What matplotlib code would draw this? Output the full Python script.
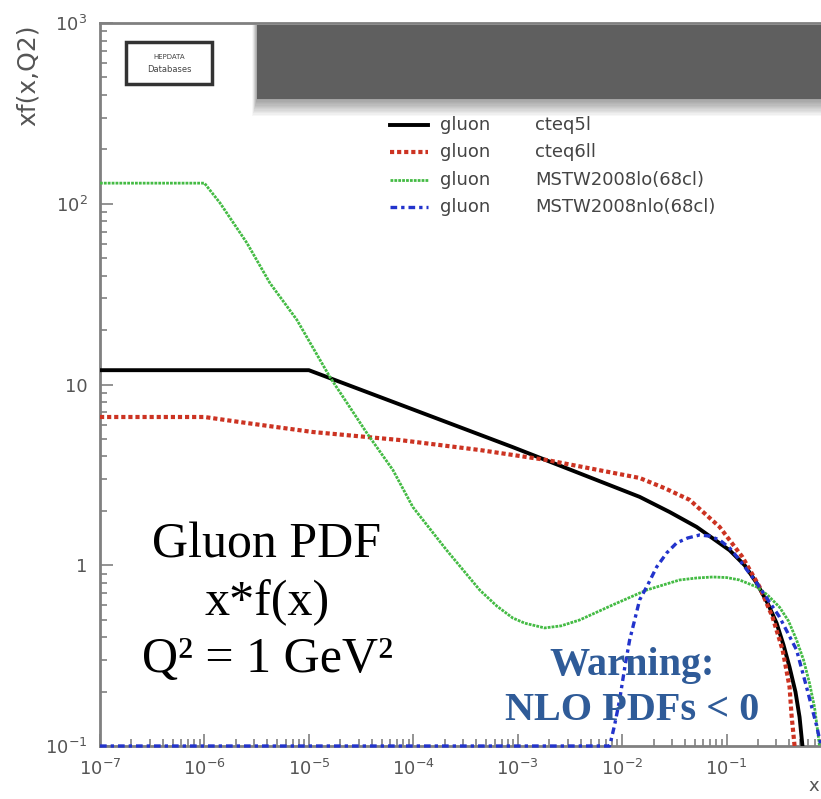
import math
import matplotlib
matplotlib.use('Agg')
import matplotlib.pyplot as plt
from matplotlib.lines import Line2D
from matplotlib.patches import Rectangle
from matplotlib.ticker import LogLocator, FuncFormatter

# ── data ─────────────────────────────────────────────────────────────────
x_cteq5l = [1e-7, 1.0e-5, 7.4e-5, 8.9e-4, 0.0147, 0.0285, 0.0516, 0.107, 0.149, 0.194,
            0.247, 0.301, 0.351, 0.401, 0.457, 0.500, 0.533]
y_cteq5l = [12.0, 12.0, 7.76, 4.51, 2.39, 1.97, 1.63, 1.21, 1.0, 0.798,
            0.618, 0.479, 0.362, 0.273, 0.199, 0.1445, 0.1]

x_cteq6ll = [1e-7, 1.0e-6, 2.55e-6, 1.09e-5, 7.4e-5, 4.33e-4, 1.9e-3, 0.0147, 0.0255, 0.0443,
             0.0857, 0.142, 0.207, 0.275, 0.344, 0.401, 0.419, 0.448]
y_cteq6ll = [6.61, 6.61, 6.12, 5.46, 4.93, 4.34, 3.82, 3.04, 2.67, 2.30,
             1.63, 1.11, 0.759, 0.518, 0.340, 0.212, 0.148, 0.1]

x_mstw_lo = [1e-7, 1.0e-6, 1.41e-6, 2.55e-6, 4.24e-6, 7.67e-6, 1.59e-5, 3.59e-5, 6.37e-5, 9.9e-5,
             2.09e-4, 4.33e-4, 6.3e-4, 8.95e-4, 1.17e-3, 1.81e-3, 2.6e-3, 3.92e-3, 8.11e-3, 0.0171,
             0.0355, 0.0516, 0.0735, 0.1, 0.133, 0.194, 0.247, 0.321, 0.392, 0.468, 0.546, 0.622,
             0.695, 0.743, 0.776]
y_mstw_lo = [130, 130, 101, 60.7, 36.4, 22.8, 11.0, 5.39, 3.37, 2.10,
             1.21, 0.729, 0.595, 0.511, 0.478, 0.450, 0.462, 0.498, 0.603, 0.729,
             0.829, 0.850, 0.861, 0.855, 0.829, 0.759, 0.684, 0.587, 0.491, 0.386, 0.299, 0.223,
             0.164, 0.1226, 0.1]

x_mstw_nlo = [1e-7, 7.59e-3, 8.47e-3, 9.46e-3, 0.01057, 0.0118, 0.01318, 0.0147, 0.01754, 0.0214,
              0.0267, 0.0333, 0.0424, 0.0552, 0.0687, 0.0857, 0.107, 0.133, 0.194, 0.321,
              0.468, 0.583, 0.734, 0.802]
y_mstw_nlo = [0.1, 0.1, 0.1306, 0.180, 0.270, 0.386, 0.498, 0.643, 0.777, 0.978,
              1.169, 1.33, 1.415, 1.47, 1.45, 1.38, 1.246, 1.07, 0.798, 0.518,
              0.340, 0.212, 0.127, 0.1]

pdf_sets = ['cteq5l', 'cteq6ll', 'MSTW2008lo(68cl)', 'MSTW2008nlo(68cl)']
colors = ['black', '#cc3322', '#44bb44', '#2233cc']
styles = ['-', (0, (1, 0.7)), (0, (1, 0.4)), (0, (2, 1.2, 1, 1.2))]
widths = [2.8, 3.0, 2.0, 2.4]

W, H = 821, 799
fig = plt.figure(figsize=(W/100, H/100), dpi=100)
def fx(px): return px/W
def fy(py): return 1 - py/H

ax = fig.add_axes([fx(100), fy(746), (831-100)/W, (746-23)/H])
ax.set_xscale('log'); ax.set_yscale('log')
ax.set_xlim(1e-7, 1); ax.set_ylim(0.1, 1000)

series = [(x_cteq5l, y_cteq5l), (x_cteq6ll, y_cteq6ll), (x_mstw_lo, y_mstw_lo), (x_mstw_nlo, y_mstw_nlo)]
for (xs, ys), c, ls, lw in zip(series, colors, styles, widths):
    # the NLO curve sits on the lower frame where it goes negative
    ax.plot(xs, ys, color=c, linestyle=ls, linewidth=lw, clip_on=(c != '#2233cc'), zorder=3)

for s in ax.spines.values():
    s.set_color('#808080'); s.set_linewidth(2)

def fmt(v, pos):
    e = int(round(math.log10(v)))
    if e == 1: return '10'
    if e == 0: return '1'
    return r'$\mathregular{10^{%d}}$' % e
ax.xaxis.set_major_locator(LogLocator(base=10, numticks=20))
ax.yaxis.set_major_locator(LogLocator(base=10, numticks=20))
ax.xaxis.set_minor_locator(LogLocator(base=10, subs=range(2, 10), numticks=100))
ax.yaxis.set_minor_locator(LogLocator(base=10, subs=range(2, 10), numticks=100))
ax.xaxis.set_major_formatter(FuncFormatter(fmt))
ax.yaxis.set_major_formatter(FuncFormatter(fmt))
ax.xaxis.set_minor_formatter(FuncFormatter(lambda v, p: ''))
ax.yaxis.set_minor_formatter(FuncFormatter(lambda v, p: ''))
ax.tick_params(which='both', direction='in', color='#808080', labelcolor='#555555', labelsize=13, width=1.2)
ax.tick_params(which='major', length=9, pad=9)
ax.tick_params(which='minor', length=5)
ax.set_xticks([1e-7, 1e-6, 1e-5, 1e-4, 1e-3, 1e-2, 1e-1])

# axis titles (ROOT style)
fig.text(fx(28), fy(24), 'xf(x,Q2)', rotation=90, ha='center', va='top', color='#555555', fontsize=18)
fig.text(fx(814), fy(786), 'x', ha='center', va='center', color='#555555', fontsize=13)

# grey title box with soft shadow
for i in range(14):
    fig.patches.append(Rectangle((fx(257 - i*0.35), fy(99 + i*1.3)), (W - 250)/W, (74 + i*1.3)/H,
                                 transform=fig.transFigure, facecolor='black', alpha=0.03,
                                 edgecolor='none', zorder=5))
fig.patches.append(Rectangle((fx(257), fy(99)), (W - 257)/W, 74/H, transform=fig.transFigure,
                             facecolor='#5f5f5f', edgecolor='none', zorder=6))

# HEPDATA logo
fig.patches.append(Rectangle((fx(126), fy(84)), 86/W, 42/H, transform=fig.transFigure,
                             facecolor='white', edgecolor='#333333', linewidth=2.5, zorder=6))
fig.text(fx(169), fy(57), 'HEPDATA', ha='center', va='center', fontsize=5, color='#444444', zorder=7)
fig.text(fx(169), fy(70), 'Databases', ha='center', va='center', fontsize=6, color='#444444', zorder=7)

# legend
leg_y = [125, 152, 180, 207]
for yy, lab, c, ls, lw in zip(leg_y, pdf_sets, colors, styles, widths):
    fig.add_artist(Line2D([fx(390), fx(428)], [fy(yy), fy(yy)], color=c, linestyle=ls, linewidth=lw))
    fig.text(fx(440), fy(yy), 'gluon', ha='left', va='center', fontsize=13, color='#444444')
    fig.text(fx(535), fy(yy), lab, ha='left', va='center', fontsize=13, color='#444444')

# annotations
serif = ['Liberation Serif', 'DejaVu Serif']
for yy, t in zip([545, 603, 660], ['Gluon PDF', 'x*f(x)', 'Q² = 1 GeV²']):
    fig.text(fx(267), fy(yy), t, ha='center', va='center', fontsize=36, family=serif, color='black')
for yy, t in zip([666, 711], ['Warning:', 'NLO PDFs < 0']):
    fig.text(fx(632), fy(yy), t, ha='center', va='center', fontsize=29, family=serif,
             fontweight='bold', color='#2f5b98')

fig.savefig('out.png', dpi=100)
